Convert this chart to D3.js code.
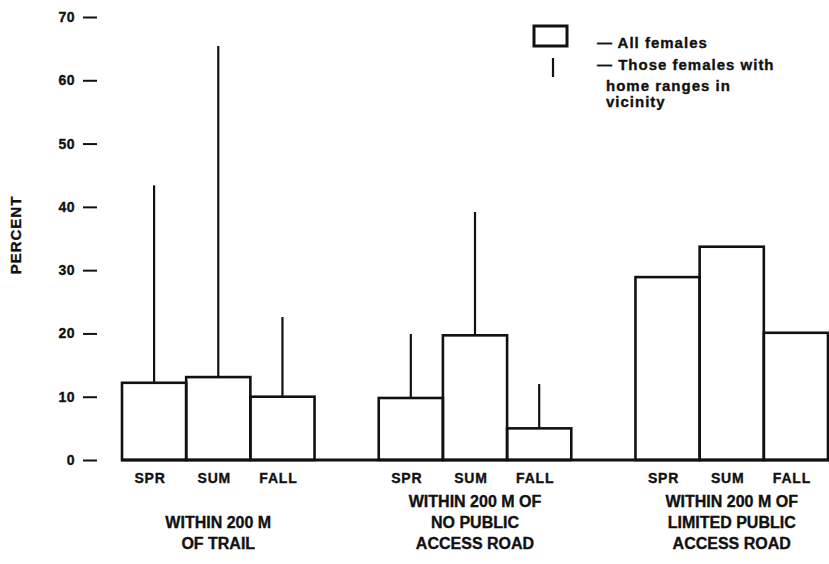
<!DOCTYPE html>
<html>
<head>
<meta charset="utf-8">
<script src="https://cdn.jsdelivr.net/npm/d3@7"></script>
<style>
  body { margin: 0; background: #fff; }
  svg text { font-family: "Liberation Sans", Arial, sans-serif; font-weight: bold; fill: #111; stroke: #111; stroke-width: 0.35px; }
</style>
</head>
<body>
<svg id="chart" width="829" height="564"></svg>
<script>
const seasons = ["SPR", "SUM", "FALL"]
const groups = ["trail", "noPublic", "limitedPublic"]
const groupLabels = [
  ["WITHIN 200 M", "OF TRAIL"],
  ["WITHIN 200 M OF", "NO PUBLIC", "ACCESS ROAD"],
  ["WITHIN 200 M OF", "LIMITED PUBLIC", "ACCESS ROAD"]
]
// all females (bars)
const allFemales = [
  [12.2, 13.1, 10.0],
  [9.8, 19.7, 5.0],
  [28.9, 33.7, 20.1]
]
// females with home ranges in vicinity (vertical lines)
const homeRange = [
  [43.4, 65.4, 22.6],
  [19.9, 39.2, 12.0],
  [null, null, null]
]
const yTicks = [0, 10, 20, 30, 40, 50, 60, 70]

const svg = d3.select("#chart")
const ink = "#111"

const y = d3.scaleLinear().domain([0, 70]).range([460, 17])

const xGroup = d3.scaleBand()
  .domain(groups)
  .range([122, 828])
  .paddingInner(0.25)
  .paddingOuter(0)

const xSeason = d3.scaleBand()
  .domain(seasons)
  .range([0, xGroup.bandwidth()])
  .padding(0)

// y axis: ticks only, no line
const yAxis = svg.append("g")
  .attr("transform", "translate(97,0)")
  .call(d3.axisLeft(y).tickValues(yTicks).tickSize(14).tickPadding(8))
yAxis.select(".domain").remove()
yAxis.selectAll(".tick line").attr("stroke", ink).attr("stroke-width", 2)
yAxis.selectAll(".tick text")
  .attr("font-size", 14)
  .attr("font-family", "Liberation Sans, Arial, sans-serif")
  .attr("font-weight", "bold")
  .attr("letter-spacing", 0.5)
  .attr("fill", ink)

svg.append("text")
  .attr("transform", "translate(21,235) rotate(-90)")
  .attr("text-anchor", "middle")
  .attr("font-size", 15)
  .attr("letter-spacing", 1)
  .text("PERCENT")

// bars per group
const g = svg.selectAll(".grp")
  .data(groups)
  .join("g")
  .attr("class", "grp")
  .attr("transform", d => `translate(${xGroup(d)},0)`)

g.selectAll("rect")
  .data((d, i) => seasons.map((s, j) => ({s, v: allFemales[i][j]})))
  .join("rect")
  .attr("x", d => xSeason(d.s))
  .attr("y", d => y(d.v))
  .attr("width", xSeason.bandwidth())
  .attr("height", d => y(0) - y(d.v))
  .attr("fill", "none")
  .attr("stroke", ink)
  .attr("stroke-width", 2.6)

g.selectAll("line.whisker")
  .data((d, i) => seasons.map((s, j) => ({s, v: allFemales[i][j], h: homeRange[i][j]})).filter(d => d.h != null))
  .join("line")
  .attr("class", "whisker")
  .attr("x1", d => xSeason(d.s) + xSeason.bandwidth() / 2)
  .attr("x2", d => xSeason(d.s) + xSeason.bandwidth() / 2)
  .attr("y1", d => y(d.v))
  .attr("y2", d => y(d.h))
  .attr("stroke", ink)
  .attr("stroke-width", 2.2)

g.selectAll("text.season")
  .data(seasons)
  .join("text")
  .attr("class", "season")
  .attr("x", d => xSeason(d) + xSeason.bandwidth() / 2 - 4)
  .attr("y", 483)
  .attr("text-anchor", "middle")
  .attr("font-size", 14)
  .attr("letter-spacing", 0.8)
  .text(d => d)

g.each(function (d, i) {
  const lines = groupLabels[i]
  const top = lines.length === 2 ? 528 : 507
  d3.select(this).selectAll("text.glabel")
    .data(lines)
    .join("text")
    .attr("class", "glabel")
    .attr("x", xGroup.bandwidth() / 2)
    .attr("y", (t, k) => top + k * 21)
    .attr("text-anchor", "middle")
    .attr("font-size", 16)
    .text(t => t)
})

// baseline
svg.append("line")
  .attr("x1", xGroup.range()[0] - 1)
  .attr("x2", 829)
  .attr("y1", y(0))
  .attr("y2", y(0))
  .attr("stroke", ink)
  .attr("stroke-width", 3)

// legend
const leg = svg.append("g")
leg.append("rect")
  .attr("x", 534).attr("y", 26).attr("width", 33).attr("height", 20)
  .attr("fill", "none").attr("stroke", ink).attr("stroke-width", 3)
leg.append("line")
  .attr("x1", 553).attr("x2", 553).attr("y1", 58).attr("y2", 77)
  .attr("stroke", ink).attr("stroke-width", 2.2)
const legText = [
  {t: "— All females", x: 597, y: 48},
  {t: "— Those females with", x: 597, y: 70},
  {t: "home ranges in", x: 606, y: 91},
  {t: "vicinity", x: 606, y: 107}
]
leg.selectAll("text")
  .data(legText)
  .join("text")
  .attr("x", d => d.x)
  .attr("y", d => d.y)
  .attr("font-size", 15)
  .attr("letter-spacing", 1)
  .text(d => d.t)
</script>
</body>
</html>
